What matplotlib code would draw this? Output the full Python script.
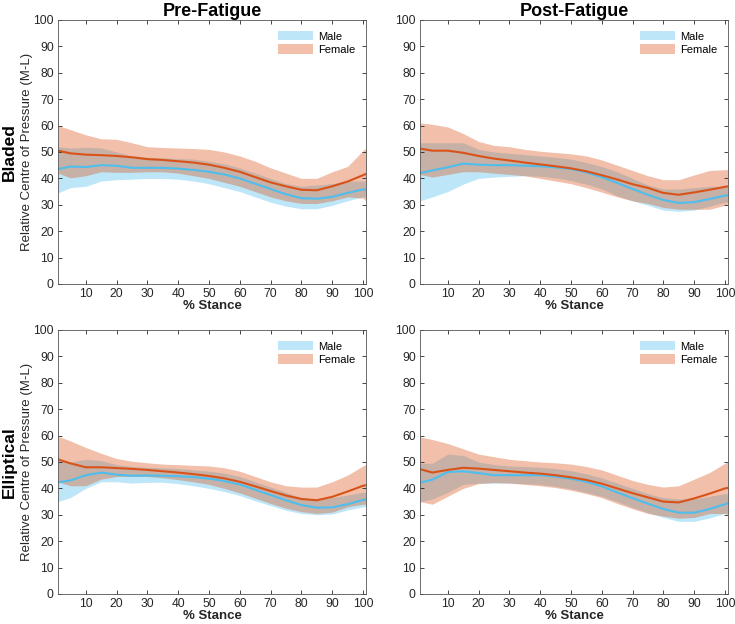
import numpy as np
import matplotlib
matplotlib.use("Agg")
import matplotlib.pyplot as plt

plt.rcParams['font.family'] = ['Liberation Sans', 'DejaVu Sans']

# % stance sample points
stance = [1, 5, 10, 15, 20, 25, 30, 35, 40, 45, 50, 55, 60, 65, 70, 75, 80, 85, 90, 95, 100, 101]

# Pre-Fatigue, Bladed
pre_bl_m_mean = [43.5, 44.5, 44.3, 45.0, 44.8, 44.0, 44.0, 44.0, 43.7, 43.2, 42.5, 41.5, 40.0, 38.0, 36.0, 34.0, 32.5, 32.3, 33.0, 34.5, 35.8, 35.7]
pre_bl_m_hi = [52.0, 51.5, 51.8, 51.5, 50.0, 48.5, 48.0, 47.8, 47.5, 47.3, 46.5, 45.5, 44.0, 42.0, 40.0, 38.0, 37.0, 37.5, 38.0, 39.0, 39.0, 39.0]
pre_bl_m_lo = [34.5, 36.5, 37.0, 39.0, 39.5, 39.7, 40.0, 40.0, 39.7, 39.0, 38.0, 36.5, 35.0, 33.0, 31.0, 29.5, 28.5, 28.5, 29.8, 31.5, 33.0, 33.0]
pre_bl_f_mean = [50.5, 49.5, 49.0, 48.8, 48.5, 48.0, 47.3, 47.0, 46.5, 46.0, 45.2, 44.0, 42.5, 40.5, 38.5, 37.0, 35.7, 35.5, 37.0, 38.8, 41.2, 41.7]
pre_bl_f_hi = [60.0, 58.5, 56.5, 55.0, 54.8, 53.5, 52.0, 51.7, 51.5, 51.3, 51.0, 50.0, 48.5, 46.5, 44.0, 42.0, 40.0, 40.0, 42.5, 44.5, 50.5, 51.5]
pre_bl_f_lo = [42.0, 40.2, 41.0, 42.5, 42.3, 42.3, 42.5, 42.5, 42.0, 41.0, 40.0, 38.5, 37.0, 35.0, 33.0, 31.5, 30.5, 30.5, 31.5, 33.0, 32.5, 31.5]

# Post-Fatigue, Bladed
post_bl_m_mean = [42.0, 43.0, 44.2, 45.6, 45.2, 45.0, 45.0, 44.8, 44.6, 44.2, 43.6, 42.3, 40.5, 38.3, 36.0, 33.8, 31.8, 30.7, 31.0, 32.2, 33.5, 33.6]
post_bl_m_hi = [53.5, 53.5, 53.5, 53.5, 51.0, 50.0, 49.5, 49.0, 48.5, 48.0, 47.3, 46.0, 44.5, 42.5, 40.0, 37.5, 36.0, 36.0, 36.5, 37.0, 37.0, 37.0]
post_bl_m_lo = [31.5, 33.0, 35.0, 37.8, 40.0, 40.5, 40.8, 41.0, 40.8, 40.2, 39.2, 37.8, 36.0, 33.5, 31.5, 29.8, 28.0, 27.5, 28.0, 29.5, 31.0, 31.0]
post_bl_f_mean = [51.3, 50.5, 50.5, 49.7, 48.5, 47.5, 46.8, 46.0, 45.3, 44.6, 43.8, 42.7, 41.2, 39.6, 37.8, 36.4, 34.5, 33.8, 34.7, 35.7, 36.8, 37.0]
post_bl_f_hi = [61.0, 60.5, 59.5, 57.0, 54.0, 52.5, 52.0, 51.0, 50.3, 49.8, 49.3, 48.5, 47.0, 45.0, 43.0, 41.0, 39.5, 39.5, 41.3, 43.0, 43.3, 43.3]
post_bl_f_lo = [41.5, 40.5, 41.5, 42.5, 42.5, 42.0, 41.5, 41.0, 40.0, 39.0, 38.0, 36.5, 34.8, 33.0, 31.5, 30.5, 29.0, 28.3, 28.3, 28.3, 29.8, 30.3]

# Pre-Fatigue, Elliptical
pre_el_m_mean = [42.3, 43.0, 45.0, 46.0, 45.2, 44.8, 44.9, 44.8, 44.6, 44.3, 43.7, 42.8, 41.5, 39.5, 37.5, 35.5, 33.7, 32.7, 32.8, 34.0, 35.6, 35.8]
pre_el_m_hi = [50.5, 50.0, 51.0, 50.5, 49.0, 48.3, 48.0, 47.8, 47.5, 47.0, 46.5, 45.8, 44.5, 42.5, 40.5, 38.5, 36.5, 36.0, 36.5, 37.5, 38.5, 38.5]
pre_el_m_lo = [35.0, 36.5, 40.0, 42.5, 42.5, 42.0, 42.3, 42.3, 41.8, 41.0, 40.0, 38.8, 37.3, 35.3, 33.5, 31.7, 30.5, 30.0, 30.3, 31.8, 33.0, 33.0]
pre_el_f_mean = [51.0, 49.5, 48.0, 48.0, 47.7, 47.4, 47.0, 46.5, 46.0, 45.4, 44.7, 43.8, 42.5, 40.8, 39.0, 37.3, 36.0, 35.5, 36.8, 38.8, 41.0, 41.2]
pre_el_f_hi = [59.8, 58.0, 55.5, 53.3, 51.3, 50.3, 49.7, 49.2, 49.0, 48.7, 48.5, 47.8, 46.5, 44.5, 42.5, 41.0, 40.5, 40.5, 42.5, 45.0, 48.5, 49.0]
pre_el_f_lo = [42.5, 41.0, 41.0, 43.5, 44.5, 44.5, 44.5, 44.0, 43.3, 42.5, 41.5, 40.0, 38.3, 36.3, 34.3, 32.5, 31.2, 30.5, 31.0, 33.0, 34.0, 34.0]

# Post-Fatigue, Elliptical
post_el_m_mean = [42.2, 43.3, 46.2, 46.5, 45.8, 45.0, 45.0, 45.0, 45.0, 44.5, 43.7, 42.5, 40.8, 38.5, 36.3, 34.2, 32.2, 30.8, 30.8, 32.2, 34.0, 34.5]
post_el_m_hi = [49.5, 49.5, 53.0, 52.5, 50.0, 49.0, 48.5, 48.3, 48.0, 47.5, 46.7, 45.5, 44.0, 42.0, 40.0, 38.0, 36.5, 36.0, 36.0, 37.0, 38.0, 38.0]
post_el_m_lo = [35.0, 36.0, 38.5, 41.5, 42.0, 42.0, 42.0, 41.8, 41.5, 40.8, 39.8, 38.5, 37.0, 35.0, 32.8, 30.8, 29.0, 27.5, 27.5, 28.8, 30.5, 30.5]
post_el_f_mean = [47.3, 46.0, 47.0, 47.8, 47.5, 47.0, 46.5, 46.0, 45.6, 45.0, 44.2, 43.2, 41.8, 40.0, 38.2, 36.6, 35.0, 34.7, 36.2, 38.0, 40.0, 40.2]
post_el_f_hi = [59.5, 58.5, 57.0, 55.0, 53.0, 52.0, 51.0, 50.5, 50.0, 49.7, 49.2, 48.3, 47.0, 45.0, 43.0, 41.5, 40.5, 41.0, 43.5, 46.0, 49.5, 50.0]
post_el_f_lo = [35.0, 34.0, 37.0, 40.0, 41.8, 42.2, 42.0, 41.5, 41.0, 40.3, 39.3, 38.0, 36.5, 34.3, 32.3, 30.5, 29.5, 28.7, 29.0, 30.5, 30.5, 30.0]

col_titles = ['Pre-Fatigue', 'Post-Fatigue']
row_titles = ['Bladed', 'Elliptical']

male_col = '#4DBEEE'
female_col = '#D95319'
txt_col = '#262626'

panels = [
    [(pre_bl_m_mean, pre_bl_m_lo, pre_bl_m_hi, pre_bl_f_mean, pre_bl_f_lo, pre_bl_f_hi),
     (post_bl_m_mean, post_bl_m_lo, post_bl_m_hi, post_bl_f_mean, post_bl_f_lo, post_bl_f_hi)],
    [(pre_el_m_mean, pre_el_m_lo, pre_el_m_hi, pre_el_f_mean, pre_el_f_lo, pre_el_f_hi),
     (post_el_m_mean, post_el_m_lo, post_el_m_hi, post_el_f_mean, post_el_f_lo, post_el_f_hi)],
]

fig = plt.figure(figsize=(7.35, 6.24), dpi=100)

lefts = [58 / 735, 420 / 735]
bottoms = [1 - 284 / 624, 1 - 594 / 624]
w = 308 / 735
h = 264 / 624

for r in range(2):
    for c in range(2):
        ax = fig.add_axes([lefts[c], bottoms[r], w, h])
        m_mean, m_lo, m_hi, f_mean, f_lo, f_hi = panels[r][c]
        ax.fill_between(stance, m_lo, m_hi, color=male_col, alpha=0.37, lw=0, label='Male')
        ax.fill_between(stance, f_lo, f_hi, color=female_col, alpha=0.37, lw=0, label='Female')
        ax.plot(stance, m_mean, color=male_col, lw=1.5)
        ax.plot(stance, f_mean, color=female_col, lw=1.5)
        ax.set_xlim(1, 101)
        ax.set_ylim(0, 100)
        ax.set_xticks(range(10, 101, 10))
        ax.set_yticks(range(0, 101, 10))
        ax.tick_params(direction='in', top=True, right=True, length=3, width=0.6,
                       labelsize=8.7, colors=txt_col, pad=3)
        for s in ax.spines.values():
            s.set_color('#555555')
            s.set_linewidth(0.6)
        ax.set_xlabel('% Stance', fontsize=9.5, fontweight='bold', color=txt_col)
        ax.xaxis.set_label_coords(0.5, -0.062)
        ax.xaxis.label.set_va('top')
        if c == 0:
            ax.set_ylabel('Relative Centre of Pressure (M-L)', fontsize=9.5, color=txt_col)
            ax.yaxis.set_label_coords(-0.1, 0.5)
            ax.yaxis.label.set_va('center')
        if r == 0:
            ax.set_title(col_titles[c], fontsize=13, fontweight='bold', pad=3)
        ax.legend(loc='upper right', frameon=False, fontsize=8, handlelength=3.2,
                  handleheight=0.9, borderaxespad=0.6, labelspacing=0.25, handletextpad=0.4)

for r in range(2):
    fig.text(9 / 735, bottoms[r] + h / 2, row_titles[r], rotation=90, fontsize=12.5,
             fontweight='bold', ha='center', va='center')

fig.savefig('out.png', dpi=100)
